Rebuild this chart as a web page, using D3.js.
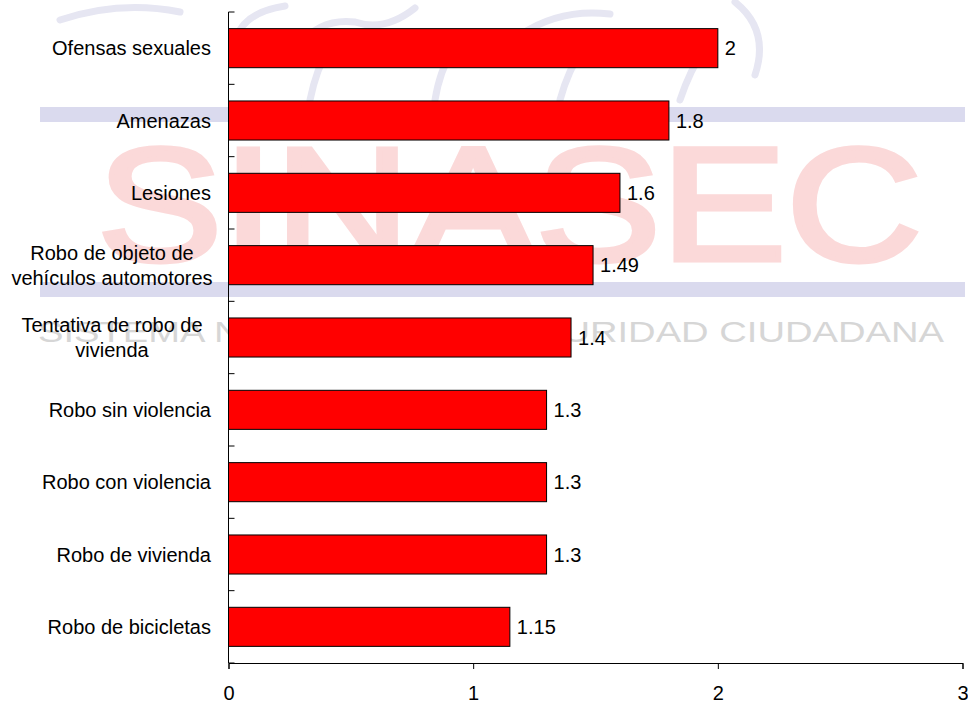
<!DOCTYPE html>
<html><head><meta charset="utf-8">
<script src="https://cdn.jsdelivr.net/npm/d3@7"></script>
<style>body{margin:0;background:#fff}svg{display:block}text{font-family:"Liberation Sans",Arial,sans-serif}</style>
</head><body><svg id="c" width="968" height="701"></svg>
<script>
const categories = ["Ofensas sexuales","Amenazas","Lesiones","Robo de objeto de|vehículos automotores","Tentativa de robo de|vivienda","Robo sin violencia","Robo con violencia","Robo de vivienda","Robo de bicicletas"];
const values = [2, 1.8, 1.6, 1.49, 1.4, 1.3, 1.3, 1.3, 1.15];
const valueLabels = ["2","1.8","1.6","1.49","1.4","1.3","1.3","1.3","1.15"];
const xTicks = [0, 1, 2, 3];

const svg = d3.select("#c");
// watermark
const wm = svg.append("g");
const logo = [
 "M236,38 Q245,12 285,6",
 "M300,45 Q320,18 355,22 Q385,32 415,8",
 "M310,100 Q316,70 330,45",
 "M435,100 Q440,70 452,52",
 "M520,35 Q560,8 610,14",
 "M560,100 Q568,70 585,45",
 "M680,100 Q690,70 705,48",
 "M735,2 Q770,30 755,75",
 "M60,20 Q120,0 180,12"
];
wm.selectAll("path.logo").data(logo).join("path").attr("d",d=>d).attr("fill","none").attr("stroke","#e6e6f2").attr("stroke-width",7).attr("stroke-linecap","round");
wm.append("rect").attr("x",40).attr("y",107).attr("width",925).attr("height",15).attr("fill","#dadaee");
wm.append("rect").attr("x",40).attr("y",282).attr("width",925).attr("height",15).attr("fill","#dadaee");
wm.append("text").attr("x",97).attr("y",260).attr("font-family","DejaVu Sans, Verdana, sans-serif").attr("font-size",162).attr("fill","#fbd9d9").attr("stroke","#fbd9d9").attr("stroke-width",5).attr("textLength",825).attr("lengthAdjust","spacingAndGlyphs").text("SINASEC");
wm.append("text").attr("x",38).attr("y",342).attr("font-family","DejaVu Sans, Verdana, sans-serif").attr("font-size",30).attr("fill","#d6d6d6").attr("textLength",906).attr("lengthAdjust","spacingAndGlyphs").text("SISTEMA NACIONAL DE SEGURIDAD CIUDADANA");

const x = d3.scaleLinear().domain([0,3]).range([228.5,962.5]);
const y = d3.scaleBand().domain(categories).range([12,663]).paddingInner(0.46).paddingOuter(0.23);
const bandAll = d3.scaleBand().domain(categories).range([12,663]);

const g = svg.append("g");
g.selectAll("rect.bar").data(values).join("rect")
 .attr("x",x(0)).attr("y",(d,i)=>y(categories[i])).attr("width",d=>x(d)-x(0)).attr("height",y.bandwidth())
 .attr("fill","#ff0000").attr("stroke","#000").attr("stroke-width",1);
g.selectAll("text.val").data(values).join("text")
 .attr("x",d=>x(d)+7).attr("y",(d,i)=>y(categories[i])+y.bandwidth()/2+7)
 .attr("font-size",20).attr("fill","#000").text((d,i)=>valueLabels[i]);

// y axis line & ticks at band boundaries (inside)
const bounds = categories.map(c=>bandAll(c)).concat([663]);
g.append("line").attr("x1",x(0)).attr("x2",x(0)).attr("y1",12).attr("y2",663).attr("stroke","#000");
g.selectAll("line.yt").data(bounds).join("line").attr("x1",x(0)).attr("x2",x(0)+6).attr("y1",d=>d).attr("y2",d=>d).attr("stroke","#000");
// category labels
categories.forEach((c,i)=>{
  const lines = c.split("|");
  const cy = bandAll(c)+bandAll.bandwidth()/2;
  const multi = lines.length>1;
  const t = g.append("text").attr("text-anchor", multi ? "middle":"end").attr("font-size",20).attr("fill","#000");
  lines.forEach((ln,k)=>{
    t.append("tspan").attr("x", multi ? 112 : 211).attr("y", cy + 7 + (k-(lines.length-1)/2)*25).text(ln);
  });
});

// x axis
const xa = g.append("g").attr("transform","translate(0,663)")
 .call(d3.axisBottom(x).tickValues(xTicks).tickFormat(d3.format("d")).tickSize(6).tickPadding(17));
xa.select(".domain").attr("stroke","#000");
xa.selectAll("text").attr("font-size",20).attr("font-family","Liberation Sans, Arial, sans-serif").attr("fill","#000");
</script></body></html>
